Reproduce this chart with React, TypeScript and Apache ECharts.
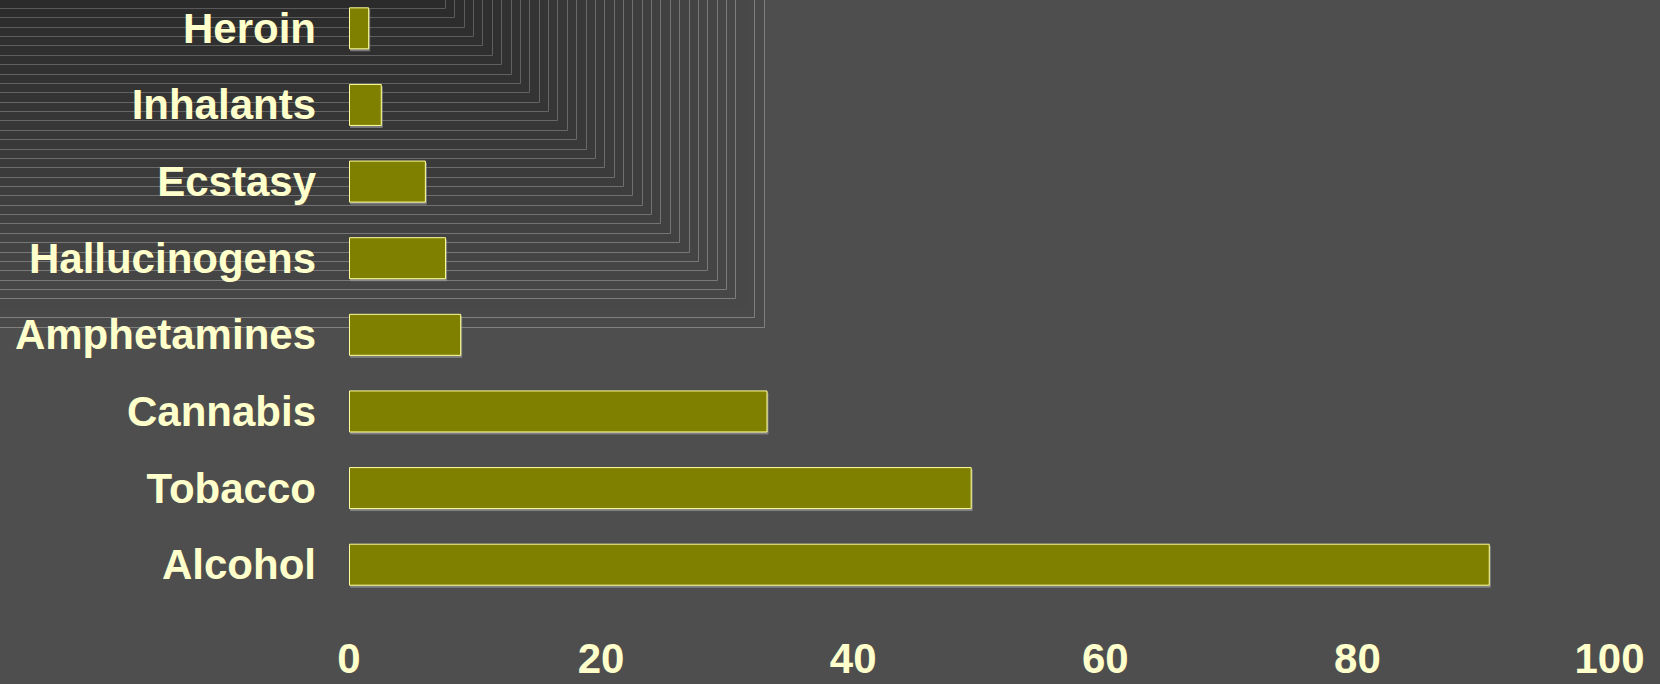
import React, { useEffect, useRef } from "react";
import * as echarts from "echarts";

// Substances, listed bottom to top on the category axis
const substances = [
  "Alcohol",
  "Tobacco",
  "Cannabis",
  "Amphetamines",
  "Hallucinogens",
  "Ecstasy",
  "Inhalants",
  "Heroin",
];

// Percentage who have used each substance
const usage = [90.5, 49.4, 33.2, 8.9, 7.7, 6.1, 2.6, 1.6];

// Value axis scale
const axisMin = 0;
const axisMax = 100;
const axisStep = 20;

const LABEL_COLOR = "#ffffcc";
const FONT = "'Liberation Sans', Arial, Helvetica, sans-serif";

function mix(a: number[], b: number[], t: number): string {
  const c = a.map((v, k) => Math.round(v + (b[k] - v) * t));
  return `rgb(${c[0]},${c[1]},${c[2]})`;
}

// Nested L-shaped bands shading the top-left corner of the backdrop
function cornerBands() {
  const bands: any[] = [];
  const count = 36;
  const step = 9.368;
  const outerY = 326.5;
  const diag = 437;
  for (let i = 0; i < count; i++) {
    const y = outerY - step * i;
    const x = y + diag;
    const t = i / (count - 1);
    bands.push({
      type: "rect",
      silent: true,
      z: -10,
      shape: { x: -5, y: -5, width: Math.round(x) + 5.5, height: Math.round(y) + 5.5 },
      style: {
        fill: mix([74, 74, 74], [42, 42, 42], t),
        stroke: i === 2 ? "transparent" : mix([128, 128, 128], [88, 88, 88], t),
        lineWidth: 1,
      },
    });
  }
  return bands;
}

export default function App() {
  const ref = useRef<HTMLDivElement>(null);

  useEffect(() => {
    if (!ref.current) return;
    const chart = echarts.init(ref.current, undefined, { renderer: "svg" });
    chart.setOption({
      animation: false,
      backgroundColor: "#4e4e4e",
      graphic: cornerBands(),
      grid: {
        left: 349,
        right: 50.5,
        top: -10,
        bottom: 81,
        containLabel: false,
        outerBoundsMode: "none",
      },
      xAxis: {
        type: "value",
        min: axisMin,
        max: axisMax,
        interval: axisStep,
        axisLine: { show: false },
        axisTick: { show: false },
        splitLine: { show: false },
        axisLabel: {
          color: LABEL_COLOR,
          fontFamily: FONT,
          fontWeight: "bold",
          fontSize: 42,
          lineHeight: 42,
          margin: 34,
        },
      },
      yAxis: {
        type: "category",
        data: substances,
        axisLine: { show: false },
        axisTick: { show: false },
        splitLine: { show: false },
        axisLabel: {
          color: LABEL_COLOR,
          fontFamily: FONT,
          fontWeight: "bold",
          fontSize: 42,
          margin: 33,
        },
      },
      series: [
        {
          type: "bar",
          data: usage,
          barWidth: 42,
          itemStyle: {
            color: "#808000",
            borderColor: "#ffff99",
            borderWidth: 1,
            shadowColor: "rgba(150,150,150,0.7)",
            shadowOffsetX: 1,
            shadowOffsetY: 2,
            shadowBlur: 0,
          },
        },
      ],
    });
    return () => chart.dispose();
  }, []);

  return (
    <div
      ref={ref}
      style={{ position: "fixed", left: 0, top: 0, width: 1660, height: 684 }}
    />
  );
}
